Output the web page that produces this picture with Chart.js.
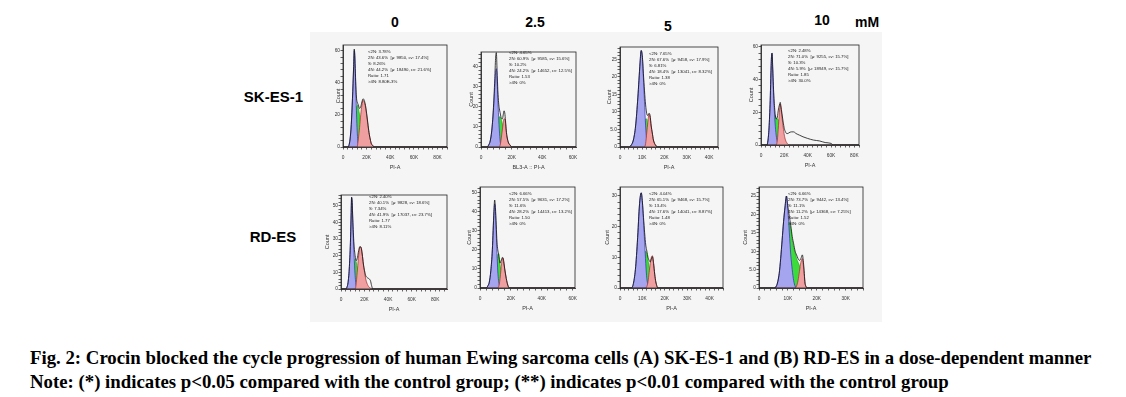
<!DOCTYPE html>
<html>
<head>
<meta charset="utf-8">
<script src="https://cdn.jsdelivr.net/npm/chart.js@4.4.0/dist/chart.umd.min.js"></script>
<style>
  html, body { margin: 0; padding: 0; background: #fff; }
  body { width: 1126px; height: 397px; position: relative; overflow: hidden; font-family: "Liberation Sans", Arial, sans-serif; }
  .figure { position: absolute; left: 310px; top: 32px; width: 572px; height: 290px; background: #f5f5f5; }
  .panel { position: absolute; }
  .dose { position: absolute; font-weight: bold; font-size: 14px; line-height: 16px; transform: translateX(-50%); }
  .cell-line { position: absolute; font-weight: bold; font-size: 15px; line-height: 17px; }
  .stats { position: absolute; font-size: 4.3px; line-height: 6px; color: #222; white-space: pre; }
  .caption { position: absolute; left: 30px; font-family: "Liberation Serif", "Times New Roman", serif; font-weight: bold; font-size: 18.8px; line-height: 19px; white-space: nowrap; }
</style>
</head>
<body>
<div class="figure"></div>

<div class="dose" style="left:395px;top:14px">0</div>
<div class="dose" style="left:535px;top:14px">2.5</div>
<div class="dose" style="left:668px;top:18px">5</div>
<div class="dose" style="left:822px;top:12px">10</div>
<div class="dose" style="left:867px;top:14px">mM</div>

<div class="cell-line" style="right:823px;top:88px">SK-ES-1</div>
<div class="cell-line" style="left:273px;top:228px;transform:translateX(-50%)">RD-ES</div>

<div class="caption" style="top:348px">Fig. 2: Crocin blocked the cycle progression of human Ewing sarcoma cells (A) SK-ES-1 and (B) RD-ES in a dose-dependent manner</div>
<div class="caption" style="top:372px">Note: (*) indicates p&lt;0.05 compared with the control group; (**) indicates p&lt;0.01 compared with the control group</div>

<script>
// SK-ES-1, 0 mM  (x in thousands of PI-A units)
const A0_X     = [0, 4, 5, 6, 7, 8, 9, 9.5, 10, 10.5, 11, 11.5, 12, 12.5, 13, 14, 15, 16, 17, 18, 19, 20, 21, 22, 23, 24, 25, 27, 88];
const A0_TOTAL = [0, 0, 1, 5, 14, 30, 50, 61, 57, 46, 36, 30, 28, 27, 26, 24, 25, 28, 30, 29, 26, 21, 15, 9, 5, 2, 1, 0, 0];
const A0_G1    = [0, 0, 1, 5, 14, 30, 50, 60, 56, 44, 32, 20, 10, 4, 1, 0, 0, 0, 0, 0, 0, 0, 0, 0, 0, 0, 0, 0, 0];
const A0_S     = [0, 0, 0, 0, 0, 0, 0, 0, 0, 0, 0, 22, 26, 26, 24, 20, 14, 8, 3, 0, 0, 0, 0, 0, 0, 0, 0, 0, 0];
const A0_G2    = [0, 0, 0, 0, 0, 0, 0, 0, 0, 0, 0, 0, 0, 2, 5, 12, 20, 26, 29, 28, 25, 20, 14, 9, 5, 2, 1, 0, 0];
const A0_STATS = ['<2N: 3.78%', '2N: 43.6%  [\u03bc: 9850, cv: 17.4%]', 'S: 8.26%', '4N: 44.2%  [\u03bc: 18490, cv: 21.6%]', 'Ratio: 1.71', '>4N: 8.80E-3%'];

// SK-ES-1, 2.5 mM
const A25_X     = [0, 4, 5, 6, 7, 8, 9, 9.5, 10, 10.5, 11, 11.5, 12, 12.5, 13, 13.5, 14, 14.5, 15, 15.5, 16, 16.5, 17, 18, 19, 20, 62];
const A25_TOTAL = [0, 0, 1, 3, 8, 18, 34, 44, 47, 38, 28, 22, 19, 17, 15, 14, 14, 16, 18, 17, 13, 8, 5, 2, 1, 0, 0];
const A25_G1    = [0, 0, 1, 3, 8, 17, 30, 37, 39, 33, 24, 15, 8, 3, 1, 0, 0, 0, 0, 0, 0, 0, 0, 0, 0, 0, 0];
const A25_S     = [0, 0, 0, 0, 0, 0, 0, 0, 0, 0, 0, 12, 15, 15, 14, 13, 11, 8, 5, 3, 1, 0, 0, 0, 0, 0, 0];
const A25_G2    = [0, 0, 0, 0, 0, 0, 0, 0, 0, 0, 0, 0, 0, 1, 3, 6, 9, 12, 14, 14, 12, 8, 5, 2, 1, 0, 0];
const A25_STATS = ['<2N: 4.65%', '2N: 60.9%  [\u03bc: 9585, cv: 15.6%]', 'S: 10.2%', '4N: 24.2%  [\u03bc: 14652, cv: 12.5%]', 'Ratio: 1.53', '>4N: 0%'];

// SK-ES-1, 5 mM
const A5_X     = [0, 4, 5, 6, 7, 8, 8.5, 9, 9.5, 10, 10.5, 11, 11.5, 12, 12.5, 13, 13.5, 14, 14.5, 15, 16, 17, 44];
const A5_TOTAL = [0, 0, 0.5, 2, 6, 14, 19, 24, 27.5, 26, 21, 16, 12, 9.5, 9, 9.6, 9, 6, 4, 2, 0.5, 0, 0];
const A5_G1    = [0, 0, 0.5, 2, 6, 14, 19, 24, 27.5, 26, 20, 13, 6, 2, 0.5, 0, 0, 0, 0, 0, 0, 0, 0];
const A5_S     = [0, 0, 0, 0, 0, 0, 0, 0, 0, 0, 0, 3, 8, 8, 6, 4, 2, 1, 0, 0, 0, 0, 0];
const A5_G2    = [0, 0, 0, 0, 0, 0, 0, 0, 0, 0, 0, 0, 1, 4, 7, 9.3, 8.5, 6, 4, 2, 0.5, 0, 0];
const A5_STATS = ['<2N: 7.65%', '2N: 67.6%  [\u03bc: 9458, cv: 17.9%]', 'S: 6.81%', '4N: 18.4%  [\u03bc: 13041, cv: 8.32%]', 'Ratio: 1.38', '>4N: 0%'];

// SK-ES-1, 10 mM
const A10_X     = [0, 5, 6, 7, 8, 8.5, 9, 9.5, 10, 11, 12, 13, 14, 15, 16, 16.5, 17, 18, 19, 20, 21, 22, 23, 24, 26, 28, 30, 33, 36, 40, 45, 50, 55, 60, 62, 84];
const A10_TOTAL = [0, 0, 3, 12, 30, 44, 54, 56, 48, 30, 20, 16, 17, 22, 25, 26, 24, 19, 14, 10, 8, 7, 7, 7.5, 8, 8, 7, 6, 5, 4, 3, 2.5, 1.5, 1, 0, 0];
const A10_G1    = [0, 0, 3, 12, 30, 44, 54, 56, 47, 28, 14, 6, 2, 0.5, 0, 0, 0, 0, 0, 0, 0, 0, 0, 0, 0, 0, 0, 0, 0, 0, 0, 0, 0, 0, 0, 0];
const A10_S     = [0, 0, 0, 0, 0, 0, 0, 0, 0, 0, 18, 16, 16, 15, 12, 10, 8, 5, 3, 1, 0, 0, 0, 0, 0, 0, 0, 0, 0, 0, 0, 0, 0, 0, 0, 0];
const A10_G2    = [0, 0, 0, 0, 0, 0, 0, 0, 0, 0, 0, 0, 3, 12, 22, 25, 23, 17, 11, 6, 3, 1.5, 0.5, 0, 0, 0, 0, 0, 0, 0, 0, 0, 0, 0, 0, 0];
const A10_STATS = ['<2N: 2.48%', '2N: 71.0%  [\u03bc: 9255, cv: 15.7%]', 'S: 10.3%', '4N: 5.9%  [\u03bc: 18949, cv: 15.7%]', 'Ratio: 1.85', '>4N: 30.0%'];

// RD-ES, 0 mM
const B0_X     = [0, 4, 5, 6, 7, 8, 8.5, 9, 9.5, 10, 11, 12, 12.5, 13, 14, 15, 16, 17, 18, 19, 20, 21, 22, 23, 24, 25, 26, 27, 90];
const B0_TOTAL = [0, 0, 1, 4, 12, 28, 42, 55, 52, 42, 27, 20, 18, 17, 19, 23, 25.5, 25, 21, 15, 11, 8, 7, 6.5, 6, 5, 2, 0, 0];
const B0_G1    = [0, 0, 1, 4, 12, 28, 42, 55, 52, 41, 22, 8, 4, 1.5, 0, 0, 0, 0, 0, 0, 0, 0, 0, 0, 0, 0, 0, 0, 0];
const B0_S     = [0, 0, 0, 0, 0, 0, 0, 0, 0, 0, 0, 18, 17, 16, 12, 8, 4, 1, 0, 0, 0, 0, 0, 0, 0, 0, 0, 0, 0];
const B0_G2    = [0, 0, 0, 0, 0, 0, 0, 0, 0, 0, 0, 0, 1, 4, 12, 20, 25, 25, 21, 15, 10, 6, 3.5, 2, 1, 0.5, 0, 0, 0];
const B0_STATS = ['<2N: 2.40%', '2N: 40.1%  [\u03bc: 9828, cv: 18.6%]', 'S: 7.34%', '4N: 41.9%  [\u03bc: 17037, cv: 23.7%]', 'Ratio: 1.77', '>4N: 8.11%'];

// RD-ES, 2.5 mM
const B25_X     = [0, 4, 5, 6, 7, 8, 8.5, 9, 9.5, 10, 10.5, 11, 11.5, 12, 12.5, 13, 13.5, 14, 14.5, 15, 15.5, 16, 17, 18, 19, 61.5];
const B25_TOTAL = [0, 0, 1, 3, 9, 20, 30, 40, 46, 42, 33, 24, 20, 18, 15, 13, 14, 15, 16, 15.5, 13, 10, 5, 1.5, 0, 0];
const B25_G1    = [0, 0, 1, 3, 9, 20, 30, 39, 44, 40, 30, 18, 9, 4, 1.5, 0, 0, 0, 0, 0, 0, 0, 0, 0, 0, 0];
const B25_S     = [0, 0, 0, 0, 0, 0, 0, 0, 0, 0, 0, 6, 17, 18, 15, 12, 9, 7, 5, 3, 2, 1, 0, 0, 0, 0];
const B25_G2    = [0, 0, 0, 0, 0, 0, 0, 0, 0, 0, 0, 0, 0, 0.5, 2, 5, 9, 13, 15.5, 15.5, 13, 10, 5, 1.5, 0, 0];
const B25_STATS = ['<2N: 6.66%', '2N: 57.5%  [\u03bc: 9631, cv: 17.2%]', 'S: 11.6%', '4N: 28.2%  [\u03bc: 14413, cv: 13.2%]', 'Ratio: 1.50', '>4N: 0%'];

// RD-ES, 5 mM
const B5_X     = [0, 5, 6, 7, 8, 8.5, 9, 9.5, 10, 10.5, 11, 11.5, 12, 12.5, 13, 13.5, 14, 14.5, 15, 15.5, 16, 17, 46];
const B5_TOTAL = [0, 0, 1.5, 7, 18, 25, 29.5, 31, 28, 23, 18, 14, 12, 10, 9, 8.5, 9.5, 10.2, 8, 4.5, 2, 0, 0];
const B5_G1    = [0, 0, 1.5, 7, 18, 25, 29.5, 31, 28, 22, 15, 8, 3, 1, 0, 0, 0, 0, 0, 0, 0, 0, 0];
const B5_S     = [0, 0, 0, 0, 0, 0, 0, 0, 0, 0, 9, 12, 11, 9, 7, 5, 3, 2, 1, 0, 0, 0, 0];
const B5_G2    = [0, 0, 0, 0, 0, 0, 0, 0, 0, 0, 0, 0, 0.5, 2, 5, 8, 10, 10.5, 8, 4.5, 2, 0, 0];
const B5_STATS = ['<2N: 4.04%', '2N: 65.1%  [\u03bc: 9468, cv: 15.7%]', 'S: 13.4%', '4N: 17.6%  [\u03bc: 14041, cv: 8.87%]', 'Ratio: 1.48', '>4N: 0%'];

// RD-ES, 10 mM
const B10_X     = [0, 5, 6, 7, 7.5, 8, 8.5, 9, 9.5, 10, 10.5, 11, 11.5, 12, 12.5, 13, 13.5, 14, 14.5, 15, 15.5, 16, 17, 36];
const B10_TOTAL = [0, 0, 0.5, 4, 8, 13, 18, 22, 25, 22, 19.5, 17, 14, 12, 10, 9, 8, 7.5, 8, 9, 6, 1, 0, 0];
const B10_G1    = [0, 0, 0.5, 4, 8, 13, 18, 22, 25, 21, 15, 9, 5, 2, 0.5, 0, 0, 0, 0, 0, 0, 0, 0, 0];
const B10_S     = [0, 0, 0, 0, 0, 0, 0, 0, 0, 4, 18, 16, 13, 11, 9.5, 8, 7, 6, 4, 2, 1, 0, 0, 0];
const B10_G2    = [0, 0, 0, 0, 0, 0, 0, 0, 0, 0, 0, 0, 0, 0, 0, 0.5, 2, 4.5, 7, 8, 5, 1, 0, 0];
const B10_STATS = ['<2N: 6.66%', '2N: 73.7%  [\u03bc: 9442, cv: 13.4%]', 'S: 11.1%', '4N: 11.2%  [\u03bc: 14368, cv: 7.25%]', 'Ratio: 1.52', '>4N: 0%'];

// layout: plot box [left, top, right, bottom] in page pixels, axis ranges, where the stats text sits
const PANELS = [
  { x: A0_X, total: A0_TOTAL, g1: A0_G1, s: A0_S, g2: A0_G2, stats: A0_STATS, xTitle: 'PI-A',
    plot: [343, 45, 447, 147], xMax: 88, yMax: 63.5, xMajor: 20, yMajor: 20, countOffset: 5, statsAt: [368, 49] },
  { x: A25_X, total: A25_TOTAL, g1: A25_G1, s: A25_S, g2: A25_G2, stats: A25_STATS, xTitle: 'BL3-A :: PI-A',
    plot: [481, 52, 576, 147], xMax: 62, yMax: 47.3, xMajor: 20, yMajor: 10, countOffset: 10, statsAt: [509, 50] },
  { x: A5_X, total: A5_TOTAL, g1: A5_G1, s: A5_S, g2: A5_G2, stats: A5_STATS, xTitle: 'PI-A',
    plot: [620, 47, 718, 147], xMax: 44, yMax: 28.5, xMajor: 10, yMajor: 5, countOffset: 11, statsAt: [649, 51] },
  { x: A10_X, total: A10_TOTAL, g1: A10_G1, s: A10_S, g2: A10_G2, stats: A10_STATS, xTitle: 'PI-A',
    plot: [761, 45, 859, 145], xMax: 84, yMax: 61, xMajor: 20, yMajor: 20, countOffset: 10, statsAt: [788, 48] },
  { x: B0_X, total: B0_TOTAL, g1: B0_G1, s: B0_S, g2: B0_G2, stats: B0_STATS, xTitle: 'PI-A',
    plot: [341, 195, 447, 289], xMax: 90, yMax: 56.4, xMajor: 20, yMajor: 10, countOffset: 14, statsAt: [369, 194] },
  { x: B25_X, total: B25_TOTAL, g1: B25_G1, s: B25_S, g2: B25_G2, stats: B25_STATS, xTitle: 'PI-A',
    plot: [480, 187, 575, 288], xMax: 61.5, yMax: 52.8, xMajor: 20, yMajor: 10, countOffset: 11, statsAt: [509, 191] },
  { x: B5_X, total: B5_TOTAL, g1: B5_G1, s: B5_S, g2: B5_G2, stats: B5_STATS, xTitle: 'PI-A',
    plot: [620, 187, 723, 288], xMax: 46, yMax: 32.9, xMajor: 10, yMajor: 10, countOffset: 13, statsAt: [649, 191] },
  { x: B10_X, total: B10_TOTAL, g1: B10_G1, s: B10_S, g2: B10_G2, stats: B10_STATS, xTitle: 'PI-A',
    plot: [759, 187, 863, 288], xMax: 36, yMax: 27.45, xMajor: 10, yMajor: 5, countOffset: 14, statsAt: [788, 191] },
];

const TICK_FONT = { family: '"Liberation Sans", Arial, sans-serif', size: 4.8 };
const TITLE_FONT = { family: '"Liberation Sans", Arial, sans-serif', size: 5.5 };
const PAD_LEFT = 8;
const PAD_TOP = 4;
const PAD_RIGHT = 8;
const AXIS_H = 24;

const framePlugin = {
  id: 'frame',
  afterDraw(chart) {
    const { ctx, chartArea: { left, top, right, bottom } } = chart;
    ctx.save();
    ctx.strokeStyle = '#222';
    ctx.lineWidth = 0.8;
    ctx.strokeRect(left, top, right - left, bottom - top);
    ctx.restore();
  }
};

const series = (xs, ys) => xs.map((x, i) => ({ x, y: ys[i] }));

const tickValues = (max, step) => {
  const ticks = [];
  for (let k = 0; k * step <= max + 1e-9; k++) {
    ticks.push({ value: +(k * step).toFixed(4) });
  }
  return ticks;
};

const isMajor = (v, major) => Math.abs(v / major - Math.round(v / major)) < 1e-6;

const yLabel = (v) => (v > 0 && v < 10 ? v.toFixed(1) : String(v));
const xLabel = (v) => (v === 0 ? '0' : `${v}K`);

const lineStyle = { pointRadius: 0, cubicInterpolationMode: 'monotone', borderWidth: 0.7 };

const makePanel = (cfg) => {
  const [pl, pt, pr, pb] = cfg.plot;
  const axisW = Math.round(cfg.countOffset + 3.3);
  const left = pl - axisW - PAD_LEFT;
  const top = pt - PAD_TOP;
  const width = pr - pl + axisW + PAD_LEFT + PAD_RIGHT;
  const height = pb - pt + PAD_TOP + AXIS_H;

  const wrap = document.createElement('div');
  wrap.className = 'panel';
  wrap.style.cssText = `left:${left}px;top:${top}px;width:${width}px;height:${height}px`;
  const canvas = document.createElement('canvas');
  canvas.width = width;
  canvas.height = height;
  wrap.appendChild(canvas);
  document.body.appendChild(wrap);

  const stats = document.createElement('div');
  stats.className = 'stats';
  stats.style.left = `${cfg.statsAt[0]}px`;
  stats.style.top = `${cfg.statsAt[1]}px`;
  stats.textContent = cfg.stats.join('\n');
  document.body.appendChild(stats);

  new Chart(canvas, {
    type: 'line',
    data: {
      datasets: [
        { ...lineStyle, data: series(cfg.x, cfg.total), borderColor: '#111', borderWidth: 0.8, fill: false },
        { ...lineStyle, data: series(cfg.x, cfg.g2), borderColor: '#a32a2a', backgroundColor: '#ef9f9f', fill: 'origin' },
        { ...lineStyle, data: series(cfg.x, cfg.g1), borderColor: '#2e2eb3', backgroundColor: '#a4a4ef', fill: 'origin' },
        { ...lineStyle, data: series(cfg.x, cfg.s), borderColor: '#10b010', backgroundColor: '#3ddc3d', fill: 'origin' },
      ],
    },
    options: {
      responsive: false,
      animation: false,
      layout: { padding: { left: PAD_LEFT, top: PAD_TOP, right: PAD_RIGHT, bottom: 0 } },
      plugins: { legend: { display: false }, tooltip: { enabled: false } },
      scales: {
        x: {
          type: 'linear',
          min: 0,
          max: cfg.xMax,
          afterFit: (scale) => { scale.height = AXIS_H; },
          afterBuildTicks: (scale) => { scale.ticks = tickValues(cfg.xMax, cfg.xMajor / 5); },
          ticks: {
            autoSkip: false,
            maxRotation: 0,
            padding: 5,
            color: '#333',
            font: TICK_FONT,
            callback: (v) => (isMajor(v, cfg.xMajor) ? xLabel(v) : ''),
          },
          grid: { drawOnChartArea: false, drawTicks: true, tickLength: 2.5, tickColor: '#222', tickWidth: 0.7 },
          border: { display: true, color: '#222', width: 0.8 },
          title: { display: true, text: cfg.xTitle, font: TITLE_FONT, color: '#333', padding: 0 },
        },
        y: {
          type: 'linear',
          min: 0,
          max: cfg.yMax,
          afterFit: (scale) => { scale.width = axisW; },
          afterBuildTicks: (scale) => { scale.ticks = tickValues(cfg.yMax, cfg.yMajor / 5); },
          ticks: {
            autoSkip: false,
            padding: 0.5,
            color: '#333',
            font: TICK_FONT,
            callback: (v) => (isMajor(v, cfg.yMajor) ? yLabel(v) : ''),
          },
          grid: { drawOnChartArea: false, drawTicks: true, tickLength: 2.5, tickColor: '#222', tickWidth: 0.7 },
          border: { display: true, color: '#222', width: 0.8 },
          title: { display: true, text: 'Count', font: TITLE_FONT, color: '#333', padding: 0 },
        },
      },
    },
    plugins: [framePlugin],
  });
};

PANELS.forEach(makePanel);
</script>
</body>
</html>
